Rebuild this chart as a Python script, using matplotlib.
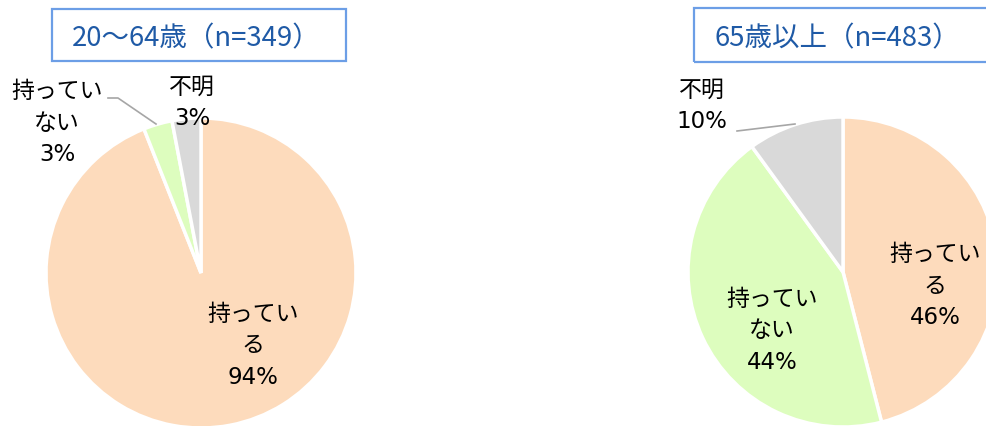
import matplotlib
matplotlib.use("Agg")
import matplotlib.pyplot as plt
from matplotlib.patches import Rectangle

plt.rcParams['font.family'] = ['Noto Sans CJK JP', 'DejaVu Sans']

# ---- data ----
groups = ["20～64歳（n=349）", "65歳以上（n=483）"]
categories = ["持っている", "持っていない", "不明"]
values_20_64 = [94, 3, 3]
values_65_over = [46, 44, 10]
label_wrapped = ["持ってい\nる", "持ってい\nない", "不明"]
colors = ["#FDDBBC", "#DDFDBE", "#D9D9D9"]

W, H = 987, 427
fig = plt.figure(figsize=(W / 100, H / 100), dpi=100)
ax = fig.add_axes([0, 0, 1, 1])

def Y(y):
    return H - y

R = 155
centers = [(201, Y(274)), (843, Y(273))]
all_values = [values_20_64, values_65_over]

for vals, c in zip(all_values, centers):
    ax.pie(vals, colors=colors, startangle=90, counterclock=False,
           center=c, radius=R,
           wedgeprops=dict(edgecolor="white", linewidth=2.5))

# label positions (pixel coords of block center)
label_pos = [
    [(253, 346), (57, 123), (192, 103)],
    [(935, 286), (772, 331), (702, 106)],
]
fs = 16.5
lab_family = ['DejaVu Sans', 'Noto Sans CJK JP']
for vals, poss in zip(all_values, label_pos):
    for lab, v, (x, y) in zip(label_wrapped, vals, poss):
        ax.text(x, Y(y), f"{lab}\n{v}%", ha="center", va="center",
                fontsize=fs, color="#000000", linespacing=1.45,
                family=lab_family)

# leader lines
lc = "#A6A6A6"
ax.plot([108, 118, 156], [Y(99), Y(99), Y(125)], color=lc, lw=1.2)
ax.plot([737, 795], [Y(132), Y(125)], color=lc, lw=1.2)

# title boxes
boxes = [(52, 10, 294, 52, 72), (694, 9, 320, 54, 715)]
for g, (x0, y0, w, h, tx) in zip(groups, boxes):
    ax.add_patch(Rectangle((x0, Y(y0 + h)), w, h, fill=False,
                           edgecolor="#6C9EE6", lw=1.6, clip_on=True))
    ax.text(tx, Y(y0 + h / 2 + 3), g, ha="left", va="center",
            fontsize=19.8, color="#1F5AA6")

ax.set_xlim(0, W)
ax.set_ylim(0, H)
ax.set_aspect("auto")
ax.axis("off")
fig.savefig("out.png", dpi=100)
